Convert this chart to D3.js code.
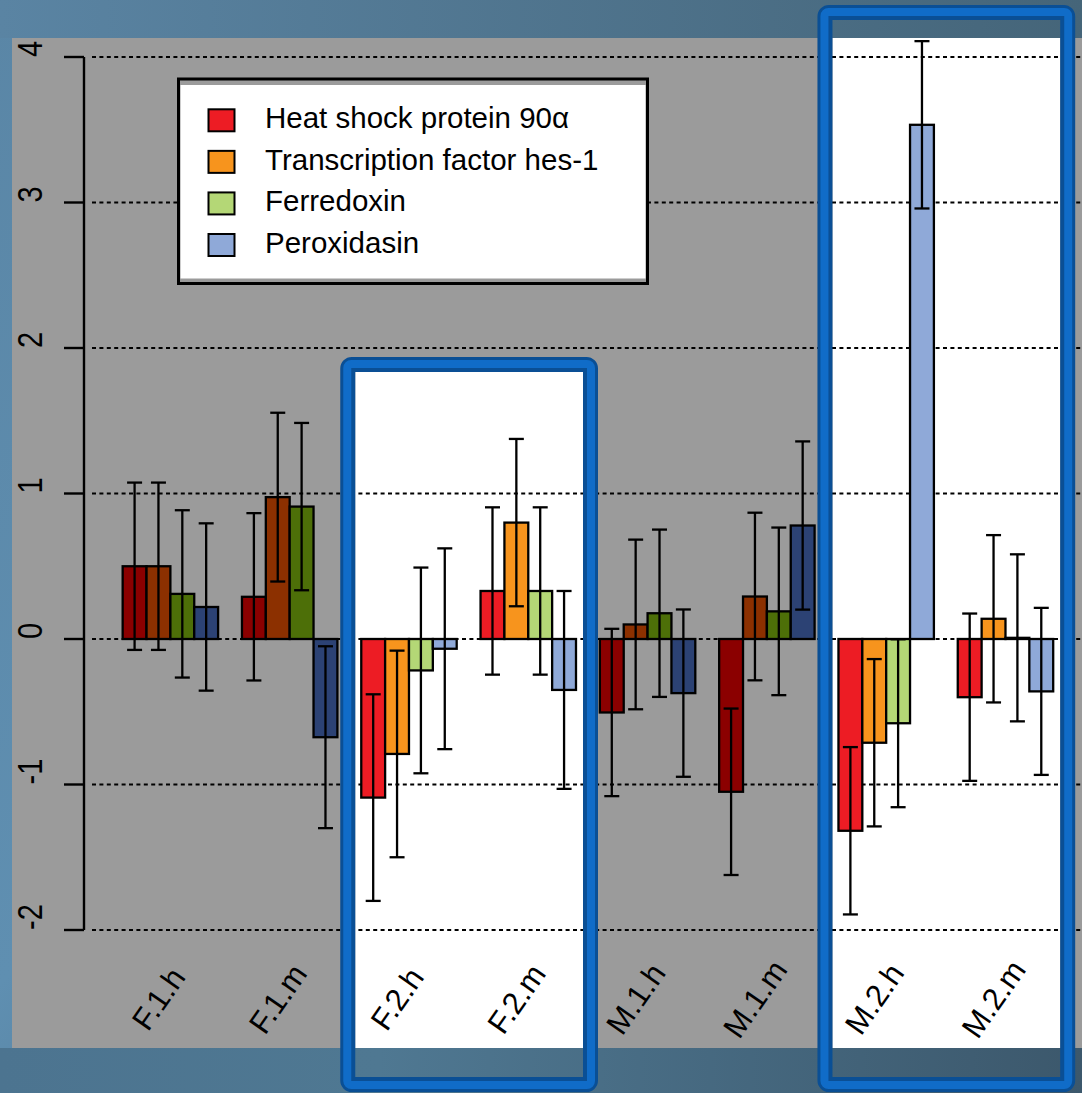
<!DOCTYPE html>
<html>
<head>
<meta charset="utf-8">
<script src="https://cdn.jsdelivr.net/npm/d3@7"></script>
<style>
  html, body { margin: 0; padding: 0; background: #4a6e88; }
  svg { display: block; }
  text { font-family: "Liberation Sans", Arial, sans-serif; fill: #000; }
</style>
</head>
<body>
<svg id="chart" width="1082" height="1093"></svg>
<script>
// ---------------- data ----------------
const categories = ["F.1.h", "F.1.m", "F.2.h", "F.2.m", "M.1.h", "M.1.m", "M.2.h", "M.2.m"];
const seriesNames = ["Heat shock protein 90\u03b1", "Transcription factor hes-1", "Ferredoxin", "Peroxidasin"];
const hsp90       = [0.50, 0.29, -1.09, 0.33, -0.505, -1.05, -1.318, -0.40];
const hes1        = [0.50, 0.975, -0.79, 0.80, 0.10, 0.292, -0.713, 0.139];
const ferredoxin  = [0.31, 0.91, -0.216, 0.33, 0.177, 0.19, -0.579, 0.008];
const peroxidasin = [0.22, -0.675, -0.067, -0.35, -0.372, 0.78, 3.534, -0.36];
const hsp90Err       = [0.575, 0.575, 0.71, 0.575, 0.575, 0.572, 0.575, 0.575];
const hes1Err        = [0.575, 0.58, 0.71, 0.575, 0.583, 0.576, 0.575, 0.575];
const ferredoxinErr  = [0.575, 0.575, 0.707, 0.575, 0.575, 0.576, 0.577, 0.574];
const peroxidasinErr = [0.575, 0.625, 0.69, 0.68, 0.575, 0.578, 0.575, 0.574];
const yTicks = [-2, -1, 0, 1, 2, 3, 4];
const highlighted = [false, false, true, true, false, false, true, true];
const lightColors = ["#ed1c24", "#f7941d", "#b4d776", "#8fa9d8"];
const darkColors  = ["#8b0000", "#8c3000", "#4d6f08", "#2c4274"];

const seriesValues = [hsp90, hes1, ferredoxin, peroxidasin];
const seriesErrors = [hsp90Err, hes1Err, ferredoxinErr, peroxidasinErr];

// ---------------- layout ----------------
const W = 1082, H = 1093;
const svg = d3.select("#chart");
const defs = svg.append("defs");

const bg = defs.append("linearGradient").attr("id", "bgGrad")
  .attr("x1", "0").attr("y1", "0").attr("x2", "1").attr("y2", "1");
bg.append("stop").attr("offset", "0%").attr("stop-color", "#5a86a6");
bg.append("stop").attr("offset", "45%").attr("stop-color", "#5f8fb1");
bg.append("stop").attr("offset", "100%").attr("stop-color", "#3b566a");
svg.append("rect").attr("width", W).attr("height", H).attr("fill", "url(#bgGrad)");

const topGrad = defs.append("linearGradient").attr("id", "topGrad");
topGrad.append("stop").attr("offset", "0%").attr("stop-color", "#5a84a3");
topGrad.append("stop").attr("offset", "100%").attr("stop-color", "#456579");
svg.append("rect").attr("x", 0).attr("y", 0).attr("width", W).attr("height", 38).attr("fill", "url(#topGrad)");
const botGrad = defs.append("linearGradient").attr("id", "botGrad");
botGrad.append("stop").attr("offset", "0%").attr("stop-color", "#4c7490");
botGrad.append("stop").attr("offset", "35%").attr("stop-color", "#4f7892");
botGrad.append("stop").attr("offset", "100%").attr("stop-color", "#3c586c");
svg.append("rect").attr("x", 0).attr("y", 1048).attr("width", W).attr("height", H - 1048).attr("fill", "url(#botGrad)");

const panel = { x: 12, y: 38, w: W - 12, h: 1048 - 38 };
svg.append("rect").attr("x", panel.x).attr("y", panel.y).attr("width", panel.w).attr("height", panel.h)
  .attr("fill", "#9b9b9b");

// scales
const y = d3.scaleLinear().domain([-2, 4]).range([930, 57]);
const slot = d3.scaleLinear().domain([0, 40]).range([98.8, 1053.2]); // R barplot: 4 bars + 1 space per group
const barW = slot(1) - slot(0);
const barLeft = (g, i) => slot(5 * g + i + 1);
const groupCenter = g => slot(5 * g + 3);

// highlight regions (runs of highlighted groups)
const boxes = [];
for (let g = 0; g < categories.length; g++) {
  if (highlighted[g] && (g === 0 || !highlighted[g - 1])) {
    let e = g;
    while (e + 1 < categories.length && highlighted[e + 1]) e++;
    boxes.push({ g0: g, g1: e });
  }
}
const boxTop = { 2: 357, 6: 5 };
boxes.forEach(b => {
  b.innerL = barLeft(b.g0, 0) - 6;
  b.innerR = barLeft(b.g1, 3) + barW + 7;
  b.outerTop = boxTop[b.g0] !== undefined ? boxTop[b.g0] : 357;
  b.innerTop = Math.max(b.outerTop + 15, panel.y);
  b.outerBottom = 1092;
});
svg.selectAll("rect.hl").data(boxes).join("rect").attr("class", "hl")
  .attr("x", d => d.innerL).attr("y", d => d.innerTop)
  .attr("width", d => d.innerR - d.innerL).attr("height", d => 1048 - d.innerTop)
  .attr("fill", "#ffffff");

// gridlines
svg.selectAll("line.grid").data(yTicks).join("line").attr("class", "grid")
  .attr("x1", 92).attr("x2", W).attr("y1", d => y(d)).attr("y2", d => y(d))
  .attr("stroke", "#000").attr("stroke-width", 2).attr("stroke-dasharray", "4,3.4");

// y axis
const axisG = svg.append("g");
axisG.append("line").attr("x1", 84).attr("x2", 84).attr("y1", y(4)).attr("y2", y(-2))
  .attr("stroke", "#000").attr("stroke-width", 2.4);
axisG.selectAll("line.tick").data(yTicks).join("line").attr("class", "tick")
  .attr("x1", 64).attr("x2", 84).attr("y1", d => y(d)).attr("y2", d => y(d))
  .attr("stroke", "#000").attr("stroke-width", 2.4);
axisG.selectAll("text").data(yTicks).join("text")
  .attr("transform", d => `translate(42,${y(d)}) scale(1.2,1) rotate(-90)`)
  .attr("text-anchor", "start").attr("font-size", 29).text(d => d);

// bars
const barData = [];
categories.forEach((c, g) => {
  seriesValues.forEach((vals, i) => {
    barData.push({ g, i, v: vals[g], e: seriesErrors[i][g] });
  });
});
svg.selectAll("rect.bar").data(barData).join("rect").attr("class", "bar")
  .attr("x", d => barLeft(d.g, d.i)).attr("width", barW)
  .attr("y", d => Math.min(y(d.v), y(0))).attr("height", d => Math.abs(y(d.v) - y(0)))
  .attr("fill", d => highlighted[d.g] ? lightColors[d.i] : darkColors[d.i])
  .attr("stroke", "#000").attr("stroke-width", 2.3);

// error bars
const eg = svg.append("g").attr("stroke", "#000").attr("stroke-width", 2.3);
const cx = d => barLeft(d.g, d.i) + barW / 2;
eg.selectAll("line.whisker").data(barData).join("line").attr("class", "whisker")
  .attr("x1", cx).attr("x2", cx).attr("y1", d => y(d.v + d.e)).attr("y2", d => y(d.v - d.e));
eg.selectAll("line.capT").data(barData).join("line").attr("class", "capT")
  .attr("x1", d => cx(d) - 7.5).attr("x2", d => cx(d) + 7.5)
  .attr("y1", d => y(d.v + d.e)).attr("y2", d => y(d.v + d.e));
eg.selectAll("line.capB").data(barData).join("line").attr("class", "capB")
  .attr("x1", d => cx(d) - 7.5).attr("x2", d => cx(d) + 7.5)
  .attr("y1", d => y(d.v - d.e)).attr("y2", d => y(d.v - d.e));

// legend
const lg = svg.append("g");
lg.append("rect").attr("x", 178.5).attr("y", 79).attr("width", 469).attr("height", 204.5)
  .attr("fill", "#9b9b9b").attr("stroke", "#000").attr("stroke-width", 3);
lg.append("rect").attr("x", 180.5).attr("y", 85).attr("width", 465).attr("height", 193.5)
  .attr("fill", "#ffffff");
const rowY = d3.scaleLinear().domain([0, 3]).range([120.3, 245]);
seriesNames.forEach((name, i) => {
  lg.append("rect").attr("x", 208.5).attr("y", rowY(i) - 11).attr("width", 26).attr("height", 22)
    .attr("fill", lightColors[i]).attr("stroke", "#000").attr("stroke-width", 2);
  lg.append("text").attr("x", 265).attr("y", rowY(i) + 8).attr("font-size", 29.5).text(name);
});

// x labels (centred under each group, rotated)
svg.selectAll("text.xl").data(categories).join("text").attr("class", "xl")
  .attr("transform", (d, i) => `translate(${groupCenter(i) - 3},1005) rotate(-55)`)
  .attr("text-anchor", "middle").attr("font-size", 31).text(d => d);

// blue highlight frames
boxes.forEach(b => {
  const ox = b.innerL - 15, oy = b.outerTop;
  const ow = (b.innerR + 15) - ox, oh = b.outerBottom - oy;
  svg.append("rect").attr("x", ox + 7.5).attr("y", oy + 7.5).attr("width", ow - 15).attr("height", oh - 15)
    .attr("rx", 4).attr("fill", "none").attr("stroke", "#0a4f95").attr("stroke-width", 15);
  svg.append("rect").attr("x", ox + 7).attr("y", oy + 7).attr("width", ow - 14).attr("height", oh - 14)
    .attr("rx", 4).attr("fill", "none").attr("stroke", "#106cc8").attr("stroke-width", 8);
});
</script>
</body>
</html>
